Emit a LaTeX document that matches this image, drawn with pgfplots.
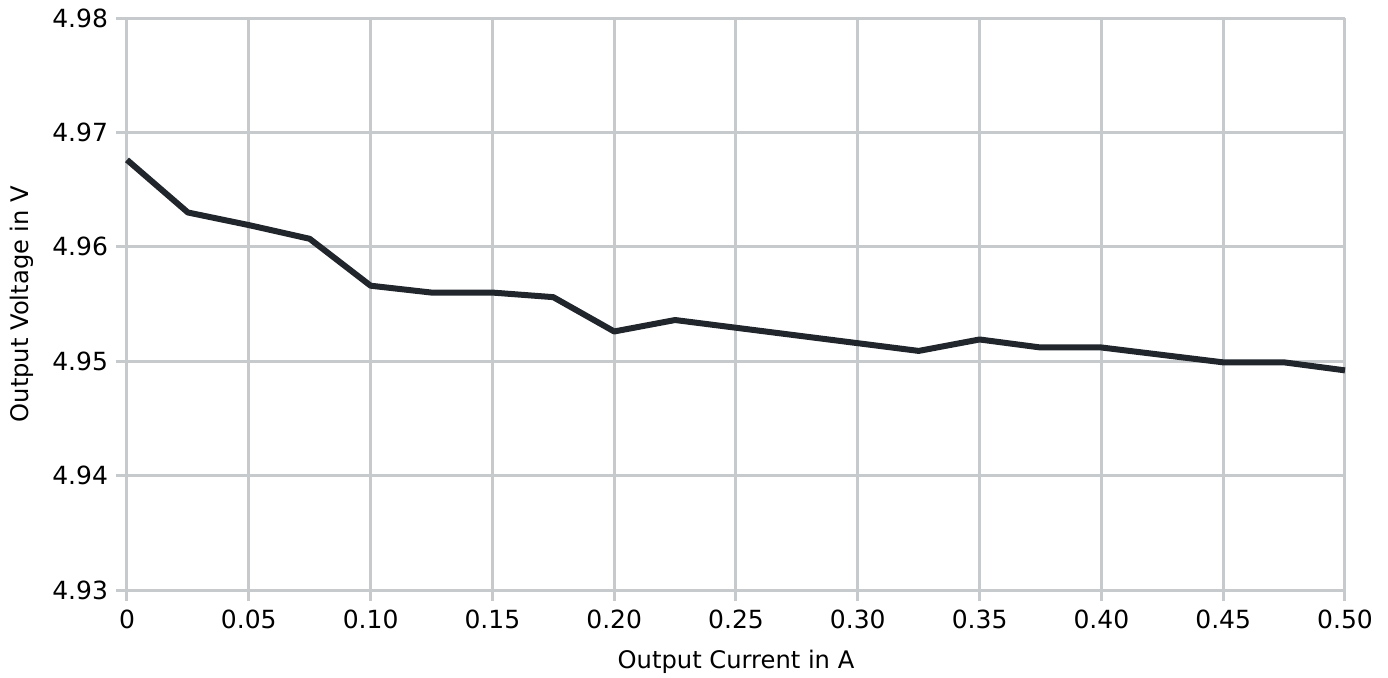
\documentclass[border=0pt]{standalone}
\usepackage{fontspec}
\setmainfont{DejaVu Sans}
\usepackage{pgfplots}
\pgfplotsset{compat=1.18}
\definecolor{gridgray}{RGB}{198,202,204}
\definecolor{linedark}{RGB}{33,38,44}
\begin{document}
\begin{tikzpicture}
\begin{axis}[
  at={(0,0)}, anchor=south west,
  scale only axis, width=609pt, height=286pt,
  xmin=0, xmax=0.5, ymin=4.93, ymax=4.98,
  xtick={0,0.05,0.1,0.15,0.2,0.25,0.3,0.35,0.4,0.45,0.5},
  xticklabels={0,0.05,0.10,0.15,0.20,0.25,0.30,0.35,0.40,0.45,0.50},
  ytick={4.93,4.94,4.95,4.96,4.97,4.98},
  yticklabels={4.93,4.94,4.95,4.96,4.97,4.98},
  grid=major,
  major grid style={gridgray, line width=1.5pt},
  axis line style={gridgray, line width=1.5pt},
  axis x line*=bottom, axis y line*=left,
  tick align=outside, major tick length=5.5pt,
  tick style={gridgray, line width=1.5pt},
  tick label style={font=\fontsize{12.5}{15}\selectfont, text=black},
  xticklabel style={yshift=-1pt},
  yticklabel style={xshift=-0.5pt},
  xlabel={Output Current in A}, ylabel={Output Voltage in V},
  label style={font=\fontsize{12.1}{14}\selectfont, text=black},
  xlabel style={at={(axis description cs:0.5,0)}, anchor=center, yshift=-36pt},
  ylabel style={at={(axis description cs:0,0.5)}, anchor=center, rotate=0, yshift=52.5pt},
  clip=false,
]
\addplot[linedark, line width=3pt, line join=round] coordinates {
(0,4.9676) (0.025,4.9630) (0.05,4.9619) (0.075,4.9607) (0.1,4.9566)
(0.125,4.9560) (0.15,4.9560) (0.175,4.9556) (0.2,4.9526) (0.225,4.9536)
(0.325,4.9509) (0.35,4.9519) (0.375,4.9512) (0.4,4.9512) (0.45,4.9499)
(0.475,4.9499) (0.5,4.9492)
};
\end{axis}
\pgfresetboundingbox
\path (-63.5pt,-43.5pt) rectangle (630.5pt,295pt);
\end{tikzpicture}
\end{document}
